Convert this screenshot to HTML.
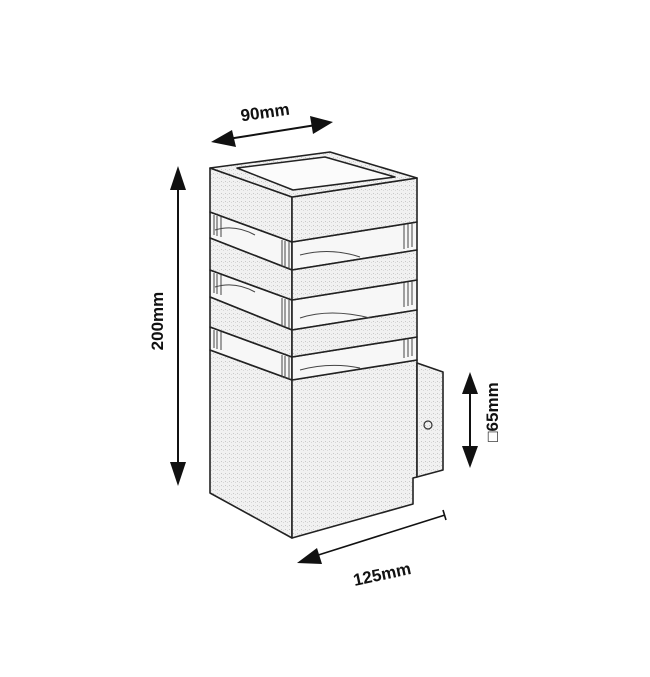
<!DOCTYPE html>
<html><head><meta charset="utf-8"><style>
html,body{margin:0;padding:0;background:#fff}
svg{display:block}
text{font-family:"Liberation Sans",sans-serif;font-weight:bold;fill:#111}
</style></head><body>
<svg width="650" height="677" viewBox="0 0 650 677" xmlns="http://www.w3.org/2000/svg">
<defs>
<pattern id="st" width="4" height="4" patternUnits="userSpaceOnUse">
<rect width="4" height="4" fill="#f1f1f1"/><rect x="1" y="1" width="1" height="1" fill="#c8c8c8"/><rect x="3" y="2" width="1" height="1" fill="#d8d8d8"/>
</pattern>
</defs>
<g stroke="#222" stroke-width="1.6" fill="url(#st)" stroke-linejoin="round">
<!-- body -->
<polygon points="210,350 292,380 292,538 210,493"/>
<polygon points="292,380 417,360 417,477 413,478 413,504 292,538"/>
<!-- bracket -->
<polygon points="417,363 443,372 443,470 417,477"/>
<!-- glass strips -->
<polygon points="210,327 292,357 292,380 210,350" fill="#f7f7f7"/>
<polygon points="292,357 417,337 417,360 292,380" fill="#f7f7f7"/>
<polygon points="210,270 292,300 292,330 210,297" fill="#f7f7f7"/>
<polygon points="292,300 417,280 417,310 292,330" fill="#f7f7f7"/>
<polygon points="210,212 292,242 292,270 210,238" fill="#f7f7f7"/>
<polygon points="292,242 417,222 417,250 292,270" fill="#f7f7f7"/>
<!-- band3 -->
<polygon points="210,297 292,330 292,357 210,327"/>
<polygon points="292,330 417,310 417,337 292,357"/>
<!-- band2 -->
<polygon points="210,238 292,270 292,300 210,270"/>
<polygon points="292,270 417,250 417,280 292,300"/>
<!-- band1 -->
<polygon points="210,168 292,197 292,242 210,212"/>
<polygon points="292,197 417,178 417,222 292,242"/>
<!-- top face -->
<polygon points="210,168 330,152 417,178 292,197"/>
<polygon points="237,168 325,157 395,177 293,190" fill="#fbfbfb"/>
</g>
<circle cx="428" cy="425" r="4" fill="none" stroke="#333" stroke-width="1.2"/>
<g stroke="#444" stroke-width="1" fill="none">
<path d="M215 230 q20 -6 40 5 M300 255 q30 -8 60 2 M300 318 q30 -10 70 0 M215 287 q20 -6 40 5 M300 370 q30 -8 60 -2"/>
<path d="M214 215v20M217 216v20M221 217v20M282 240v27M285 241v27M289 242v27M404 225v24M408 224v24M412 223v24
M214 273v20M217 274v20M221 275v20M282 298v28M285 299v28M289 300v28M404 283v24M408 282v24M412 281v24
M214 330v18M217 331v18M221 332v18M282 355v22M285 356v22M289 357v22M404 340v18M408 339v18M412 338v18"/>
</g>
<!-- dimensions -->
<g stroke="#111" stroke-width="2" fill="#111">
<line x1="178" y1="185" x2="178" y2="467"/>
<polygon points="178,166 170,190 186,190" stroke="none"/>
<polygon points="178,486 170,462 186,462" stroke="none"/>
<line x1="228" y1="139" x2="316" y2="125"/>
<polygon points="211,142 232,130 236,147" stroke="none"/>
<polygon points="333,122 310,116 313,134" stroke="none"/>
<line x1="470" y1="390" x2="470" y2="450"/>
<polygon points="470,372 462,394 478,394" stroke="none"/>
<polygon points="470,468 462,446 478,446" stroke="none"/>
<line x1="312" y1="557" x2="445" y2="515" stroke-width="1.6"/>
<line x1="443" y1="510" x2="446" y2="520" stroke-width="1.6"/>
<polygon points="297,563 317,548 322,564" stroke="none"/>
</g>
<text x="265" y="118" font-size="17" text-anchor="middle" transform="rotate(-8 265 112)">90mm</text>
<text x="169" y="327" font-size="17" text-anchor="middle" transform="rotate(-90 163 327)">200mm</text>
<text x="504" y="418" font-size="17" text-anchor="middle" transform="rotate(-90 498 418)">□65mm</text>
<text x="382" y="580" font-size="17" text-anchor="middle" transform="rotate(-12 382 574)">125mm</text>
</svg>
</body></html>
